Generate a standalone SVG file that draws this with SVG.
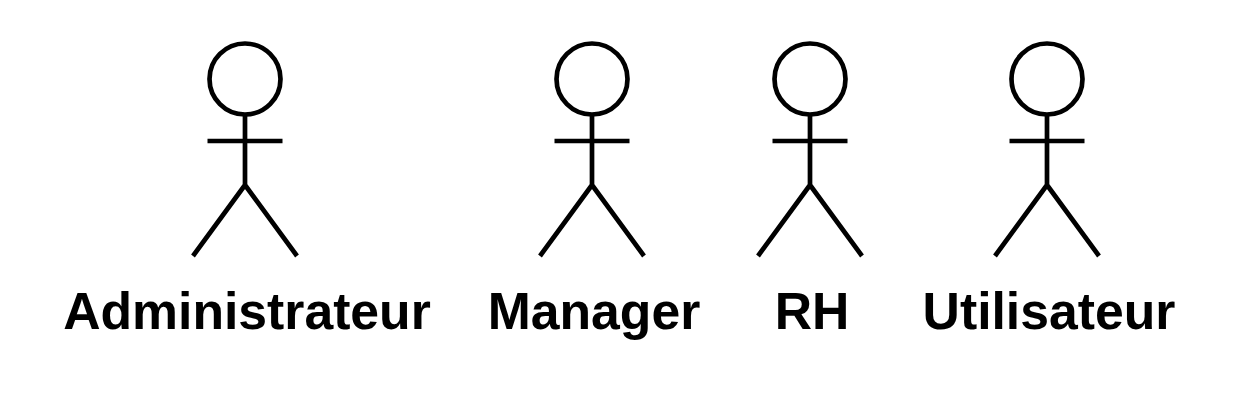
<svg xmlns="http://www.w3.org/2000/svg" width="1236" height="400" viewBox="0 0 1236 400">
<defs><g id="actor"><circle cx="0" cy="79" r="35.5"/><path d="M0 114.500V185M-37.500 141H37.500M0 185L-52 256M0 185L52 256"/></g></defs>
<style>.s{fill:#fff;stroke:#000;stroke-width:4.700}.s path{fill:none}text{font-family:"Liberation Sans",Arial,sans-serif;font-weight:bold;font-size:51.700px;text-anchor:middle;fill:#000}</style>
<rect width="1236" height="400" fill="#fff"/>
<g id="administrateur"><use href="#actor" class="s" x="245"/><text x="247" y="328.500">Administrateur</text></g>
<g id="manager"><use href="#actor" class="s" x="592"/><text x="594" y="328.500">Manager</text></g>
<g id="rh"><use href="#actor" class="s" x="810"/><text x="812" y="328.500">RH</text></g>
<g id="utilisateur"><use href="#actor" class="s" x="1047"/><text x="1049" y="328.500">Utilisateur</text></g>
<g id="connectors"/>
</svg>
